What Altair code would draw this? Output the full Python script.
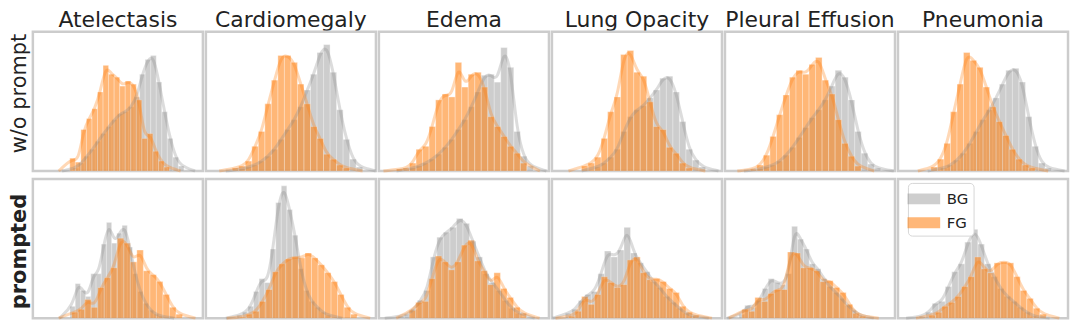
import altair as alt
import pandas as pd

diseases = ["Atelectasis", "Cardiomegaly", "Edema", "Lung Opacity", "Pleural Effusion", "Pneumonia"]
conditions = ["w/o prompt", "prompted"]
series_names = ["BG", "FG"]

# ---- row 1: w/o prompt ----  (bin left edge, bin width, bar heights per disease)
wo_bg_start = [41.2, 33.7, 31.3, 43.7, 32.7, 43.7]
wo_bg_width = [5.67, 6.67, 6.67, 6.67, 6.67, 6.67]
wo_bg_heights = [
    [3, 8, 15, 22, 30, 38, 45, 52, 58, 60, 65, 75, 98, 113, 117, 90, 60, 33, 14, 5],
    [2, 4, 6, 10, 15, 22, 32, 42, 52, 65, 82, 98, 120, 128, 100, 62, 32, 12, 4],
    [3, 5, 8, 12, 17, 24, 32, 42, 52, 65, 80, 97, 98, 90, 125, 105, 40, 15, 5],
    [4, 8, 14, 22, 40, 55, 62, 66, 74, 82, 94, 96, 80, 50, 22, 11, 4],
    [2, 4, 6, 10, 16, 24, 34, 44, 54, 62, 72, 86, 102, 95, 72, 40, 18, 7, 3],
    [3, 6, 11, 18, 28, 40, 52, 62, 74, 88, 102, 104, 90, 55, 25, 8, 3],
]
wo_fg_start = [37.8, 27.0, 18.0, 30.3, 26.0, 33.7]
wo_fg_width = [5.67, 6.67, 6.67, 6.67, 6.67, 6.67]
wo_fg_heights = [
    [13, 9, 42, 53, 63, 80, 107, 98, 95, 86, 91, 88, 72, 33, 38, 20, 10, 4],
    [3, 5, 10, 25, 40, 68, 92, 117, 117, 110, 88, 68, 45, 33, 17, 12, 6, 3],
    [2, 3, 8, 22, 25, 45, 72, 78, 75, 110, 85, 98, 100, 85, 55, 45, 35, 25, 18, 8],
    [5, 8, 14, 33, 60, 75, 118, 122, 100, 96, 70, 45, 42, 24, 18, 8, 3],
    [2, 6, 16, 35, 57, 77, 95, 102, 98, 108, 115, 92, 78, 52, 28, 15, 5],
    [4, 12, 28, 60, 88, 120, 112, 105, 85, 65, 50, 36, 22, 12, 6, 3],
]

# ---- row 2: prompted ----
pr_bg_start = [38.0, 31.8, 19.3, 13.7, 14.3, 21.7]
pr_bg_width = [5.33, 5.67, 6.67, 6.67, 6.0, 6.67]
pr_bg_heights = [
    [12, 35, 28, 22, 45, 45, 75, 97, 76, 86, 94, 72, 45, 27, 15, 8, 4, 2],
    [3, 6, 12, 27, 40, 36, 70, 117, 134, 110, 84, 50, 28, 17, 11, 6, 3],
    [2, 4, 9, 18, 28, 62, 82, 87, 92, 101, 96, 78, 62, 45, 36, 28, 18, 10, 5],
    [5, 9, 18, 24, 27, 45, 68, 62, 69, 92, 66, 56, 47, 37, 31, 22, 16, 10, 5, 2],
    [4, 13, 11, 18, 30, 40, 36, 34, 45, 93, 80, 70, 55, 50, 40, 32, 26, 20, 13, 8, 3],
    [2, 6, 15, 17, 32, 47, 55, 77, 90, 75, 55, 42, 30, 22, 17, 11, 6, 2],
]
pr_fg_start = [39.7, 34.7, 31.0, 17.0, 17.3, 31.7]
pr_fg_width = [6.67, 6.67, 6.67, 6.67, 6.67, 6.67]
pr_fg_heights = [
    [6, 9, 19, 11, 31, 41, 51, 81, 76, 57, 69, 48, 44, 37, 24, 11, 4],
    [1, 4, 7, 17, 29, 47, 55, 60, 62, 61, 66, 61, 54, 46, 37, 24, 11, 4],
    [8, 16, 17, 40, 63, 57, 49, 57, 74, 79, 58, 48, 34, 46, 30, 21, 11, 5],
    [2, 7, 22, 14, 24, 42, 36, 31, 34, 59, 62, 46, 39, 40, 37, 30, 26, 12, 6, 3],
    [9, 7, 21, 17, 25, 29, 29, 67, 66, 51, 51, 48, 37, 38, 31, 26, 14, 5, 2],
    [3, 6, 12, 16, 22, 32, 42, 62, 50, 46, 56, 57, 56, 42, 28, 20, 10, 4],
]

X_MAX = 174
Y_MAX = 141

table = {
    "w/o prompt": {"BG": (wo_bg_start, wo_bg_width, wo_bg_heights),
                   "FG": (wo_fg_start, wo_fg_width, wo_fg_heights)},
    "prompted": {"BG": (pr_bg_start, pr_bg_width, pr_bg_heights),
                 "FG": (pr_fg_start, pr_fg_width, pr_fg_heights)},
}

rows = []
for cond in conditions:
    for s in series_names:
        starts, widths, heights = table[cond][s]
        for di, d in enumerate(diseases):
            st, w, hs = starts[di], widths[di], heights[di]
            rows.append(dict(kind="kde", cond=cond, disease=d, series=s, order=0,
                             x=st - 2 * w, x1=None, h=0))
            for i, h in enumerate(hs):
                x0 = st + i * w
                rows.append(dict(kind="bar", cond=cond, disease=d, series=s, order=i,
                                 x=x0, x1=x0 + w, h=h))
                rows.append(dict(kind="kde", cond=cond, disease=d, series=s, order=i + 1,
                                 x=x0 + w / 2, x1=None, h=h))
            rows.append(dict(kind="kde", cond=cond, disease=d, series=s, order=len(hs) + 1,
                             x=st + (len(hs) + 2) * w, x1=None, h=0))

df = pd.DataFrame(rows)

xs = alt.Scale(domain=[0, X_MAX], nice=False, zero=False)
ys = alt.Scale(domain=[0, Y_MAX], nice=False)
color_scale = alt.Scale(domain=series_names, range=["#8a8a8a", "#ff7f0e"])
opac_scale = alt.Scale(domain=series_names, range=[0.42, 0.56])

FONT = "DejaVu Sans"
TXT = "#222222"

LEGEND = alt.Legend(
    title=None, orient="none", legendX=880, legendY=152,
    symbolType="M-1.5,-0.5H1.5V0.5H-1.5Z", symbolSize=480,
    symbolOpacity=0.28, symbolStrokeWidth=0,
    labelFontSize=15, labelFont=FONT, labelColor=TXT, labelOffset=12,
    rowPadding=5, padding=5, strokeColor="#d6d6d6", fillColor="white",
    cornerRadius=4,
)


def row_chart(cond, show_headers, weight):
    sub = df[df.cond == cond]
    bars = alt.Chart().mark_rect(stroke="white", strokeWidth=0.5, strokeOpacity=0.7).encode(
        x=alt.X("x:Q", scale=xs, axis=None),
        x2="x1:Q",
        y=alt.Y("h:Q", scale=ys, axis=None),
        y2=alt.datum(0),
        color=alt.Color("series:N", scale=color_scale, legend=LEGEND),
        opacity=alt.Opacity("series:N", scale=opac_scale, legend=None),
        order="series:N",
    ).transform_filter(alt.datum.kind == "bar")
    lines = alt.Chart().mark_line(interpolate="basis", strokeWidth=3, opacity=0.3).encode(
        x=alt.X("x:Q", scale=xs, axis=None),
        y=alt.Y("h:Q", scale=ys, axis=None),
        stroke=alt.Stroke("series:N", scale=color_scale, legend=None),
        detail="series:N",
        order="order:Q",
    ).transform_filter(alt.datum.kind == "kde")
    if show_headers:
        header = alt.Header(title=None, labelFontSize=22, labelFont=FONT, labelColor=TXT,
                            labelPadding=0, labelLimit=0)
    else:
        header = alt.Header(title=None, labels=False)
    return alt.layer(bars, lines, data=sub).properties(width=171, height=140).facet(
        column=alt.Column("disease:N", sort=diseases, header=header),
        spacing=3,
    ).properties(
        bounds="flush",
        title=alt.TitleParams(text=cond, orient="left", anchor="middle", fontSize=21,
                              fontWeight=weight, font=FONT, color=TXT, offset=2),
    )


top = row_chart("w/o prompt", True, "normal")
bottom = row_chart("prompted", False, "bold")

chart = alt.vconcat(top, bottom, spacing=-3).properties(
    padding={"left": 0, "top": 0, "right": 0, "bottom": 0},
).configure_view(stroke="#cccccc", strokeWidth=2.5).configure_facet(spacing=3).resolve_scale(
    color="shared")

chart.save("out.html", embed_options={"renderer": "svg", "actions": False})
